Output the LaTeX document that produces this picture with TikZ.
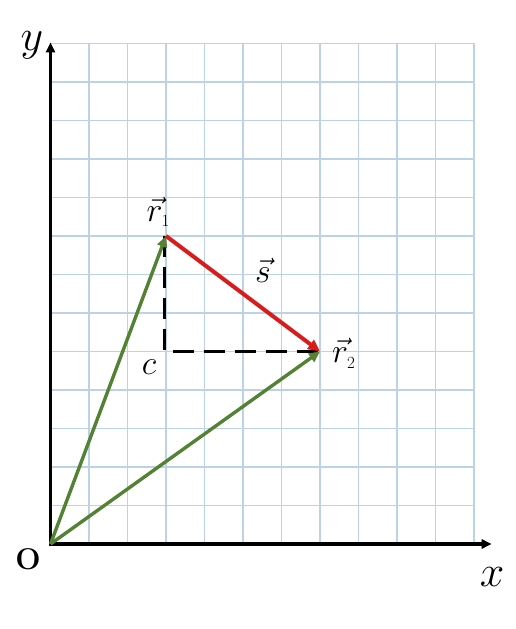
\documentclass[tikz,border=0pt]{standalone}
\usepackage{fix-cm}
\usetikzlibrary{arrows.meta}
\definecolor{gridblue}{RGB}{188,210,230}
\definecolor{vgreen}{RGB}{84,130,53}
\definecolor{vred}{RGB}{216,28,28}
\tikzset{
  gridline/.style={draw=gridblue,line width=1.2pt},
  axisline/.style={draw=black,line width=3.2pt,-{Triangle[length=10pt,width=9pt]}},
  dashline/.style={draw=black,line width=3pt,dash pattern=on 21pt off 10pt},
  greenvec/.style={draw=vgreen,line width=3.4pt,-{Triangle[length=11pt,width=10pt]}},
  redvec/.style={draw=vred,line width=4pt,-{Triangle[length=12pt,width=11pt]}},
  biglabel/.style={inner sep=0pt,font=\fontsize{44}{48}\selectfont},
  veclabel/.style={inner sep=0pt,font=\fontsize{34}{38}\selectfont},
  origlabel/.style={inner sep=0pt,font=\fontsize{30}{34}\selectfont\bfseries}
}
\begin{document}
\begin{tikzpicture}[x=1pt,y=1pt]
\useasboundingbox (0,0) rectangle (516,629);
\begin{scope}[shift={(50.5,85)},x=38.5pt,y=38.5pt]
  \draw[gridline,step=38.5pt] (0,0) grid (11,13);
  \coordinate (O) at (0,0);
  \coordinate (Xend) at (11.46,0);
  \coordinate (Yend) at (0,13.03);
  \coordinate (R1) at (3,8);
  \coordinate (R2) at (7,5);
  \coordinate (C) at (2.95,5);
  \coordinate (R1d) at (2.95,8);
  \draw[axisline] (O) -- (Yend);
  \draw[axisline] ([xshift=-1.6pt]O) -- (Xend);
  \draw[dashline] (R1d) -- (C) -- (R2);
  \draw[greenvec] (O) -- (R1);
  \draw[greenvec] (O) -- (R2);
  \draw[redvec] (R1) -- (R2);
  \node[biglabel] (ylab) at (-0.48,12.95) {$y$};
  \node[biglabel] (xlab) at (11.47,-0.86) {$x$};
  \node[origlabel] (olab) at (-0.58,-0.4) {O};
  \node[veclabel] (r1lab) at (2.8,8.62) {$\vec{r}_{\scriptscriptstyle 1}$};
  \node[veclabel] (r2lab) at (7.62,4.95) {$\vec{r}_{\scriptscriptstyle 2}$};
  \node[veclabel] (slab) at (5.52,7.1) {$\vec{s}$};
  \node[veclabel] (clab) at (2.56,4.6) {$c$};
\end{scope}
\end{tikzpicture}
\end{document}
